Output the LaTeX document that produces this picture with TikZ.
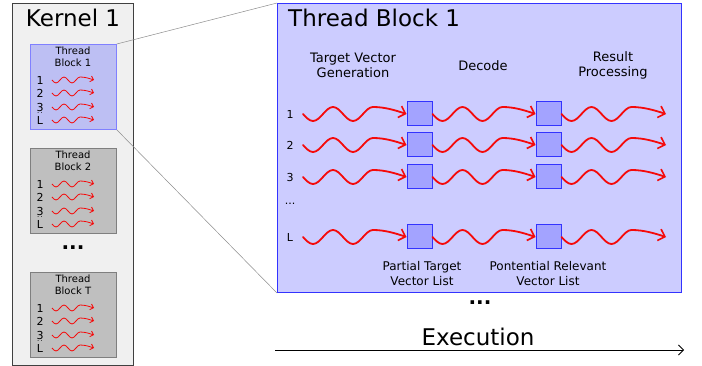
\documentclass[tikz,border=0pt]{standalone}
\usepackage{fontspec}
\setmainfont{DejaVu Sans}
\usetikzlibrary{arrows.meta}
\definecolor{kernelfill}{HTML}{F0F0F0}
\definecolor{tbfill}{HTML}{BDBFF3}
\definecolor{tbedge}{HTML}{8080FF}
\definecolor{grayfill}{HTML}{BFBFBF}
\definecolor{grayedge}{HTML}{7F7F7F}
\definecolor{bigfill}{HTML}{CCCCFF}
\definecolor{bigedge}{HTML}{3333FF}
\definecolor{listfill}{HTML}{A3A3FF}
\definecolor{wavered}{HTML}{F50A0A}
\begin{document}
\begin{tikzpicture}[x=1pt,y=-1pt,
  kernelbox/.style={draw=black!75,fill=kernelfill,line width=0.8pt},
  smallblock/.style={draw=#1edge,fill=#1fill,line width=0.8pt},
  bigblock/.style={draw=bigedge,fill=bigfill,line width=1pt},
  listbox/.style={draw=bigedge,fill=listfill,line width=1pt,minimum width=25pt,minimum height=24pt,inner sep=0pt},
  bigwave/.style={wavered,line width=1.8pt,line cap=round,
    -{Straight Barb[length=6pt,width=12pt,line width=1.6pt]}},
  smallwave/.style={wavered,line width=0.8pt,
    -{Straight Barb[length=3pt,width=6pt]}},
  zoomline/.style={draw=black!45,line width=0.5pt},
  lbl/.style={inner sep=0pt,font=\fontsize{13}{15}\selectfont,align=center},
  rowlbl/.style={inner sep=0pt,font=\fontsize{11}{13}\selectfont},
  tinylbl/.style={inner sep=0pt,font=\fontsize{10}{12}\selectfont,align=center}]
\useasboundingbox (0,0) rectangle (702,366);

% kernel column
\node[kernelbox,minimum width=121pt,minimum height=362pt,inner sep=0pt,anchor=north west] (kernel) at (12,3) {};
\node[inner sep=0pt,font=\fontsize{23}{26}\selectfont] (ktitle) at (73,18) {Kernel 1};

% one small thread block: #1 name, #2 style colour, #3 top y, #4 label
\newcommand{\smallblk}[4]{%
  \node[smallblock=#2,minimum width=86pt,minimum height=85pt,inner sep=0pt,anchor=north west] (#1) at (30,#3) {};
  \node[tinylbl,anchor=north] (#1t) at (73,#3+3) {Thread\\[-0.5pt]Block #4};
  \foreach \dy/\r in {36/1,49/2,63/3,76/L}{
    \node[rowlbl] (#1n\r) at (40,#3+\dy) {\r};
    \coordinate (#1s\r) at (52,#3+\dy);
    \coordinate (#1e\r) at (94,#3+\dy);
    \draw[smallwave] (#1s\r) sin ++(4,3) cos ++(4,-3) sin ++(4,-3) cos ++(4,3)
      sin ++(4,3) cos ++(4,-3) sin ++(4,-3) cos (#1e\r);
  }
  \node[inner sep=0pt,font=\fontsize{7}{7}\selectfont] (#1d) at (40,#3+69) {.\,.};
}
\smallblk{tba}{tb}{44}{1}
\smallblk{tbb}{gray}{148}{2}
\node[inner sep=0pt,font=\bfseries\fontsize{20}{20}\selectfont] (kdots) at (73,248) {...};
\smallblk{tbt}{gray}{272}{T}

% magnified thread block
\node[bigblock,minimum width=404pt,minimum height=289pt,inner sep=0pt,anchor=north west] (big) at (277,3) {};
\draw[zoomline] (tba.north east) -- (big.north west);
\draw[zoomline] (tba.south east) -- (big.south west);
\node[inner sep=0pt,anchor=west,font=\fontsize{23}{26}\selectfont] (btitle) at (288,18) {Thread Block 1};

\node[lbl] (h1) at (353,65) {Target Vector\\Generation};
\node[lbl] (h2) at (483,66) {Decode};
\node[lbl] (h3) at (613,65) {Result\\Processing};

\foreach \y/\r in {114/1,145/2,177/3,237/L}{
  \node[rowlbl] (n\r) at (290,\y) {\r};
  \coordinate (s\r) at (303,\y);
  \node[listbox] (p\r) at (419.5,\y) {};
  \node[listbox] (q\r) at (548.5,\y) {};
  \coordinate (e\r) at (666,\y);
  \draw[bigwave] (s\r) sin ++(10,7) cos ++(10,-7) sin ++(10,-7) cos ++(10,7)
    sin ++(10,7) cos ++(10,-7) sin ++(10,-7) cos (p\r.west);
  \draw[bigwave] (p\r.east) sin ++(10,7) cos ++(10,-7) sin ++(10,-7) cos ++(10,7)
    sin ++(10,7) cos ++(10,-7) sin ++(10,-7) cos (q\r.west);
  \draw[bigwave] (q\r.east) sin ++(10,7) cos ++(10,-7) sin ++(10,-7) cos ++(10,7)
    sin ++(10,7) cos ++(10,-7) sin ++(10,-7) cos (e\r);
}
\node[rowlbl] (ndots) at (290,204) {...};

\node[lbl,font=\fontsize{12}{15}\selectfont] (l1) at (422,273.5) {Partial Target\\Vector List};
\node[lbl,font=\fontsize{12}{15}\selectfont] (l2) at (548,273.5) {Pontential Relevant\\Vector List};

% execution axis
\node[inner sep=0pt,font=\bfseries\fontsize{20}{20}\selectfont] (edots) at (480,303) {...};
\node[inner sep=0pt,font=\fontsize{23}{26}\selectfont] (exec) at (478,337) {Execution};
\coordinate (ea) at (275,350);
\coordinate (eb) at (684,350);
\draw[line width=0.8pt,-{Straight Barb[length=5pt,width=10pt]}] (ea) -- (eb);
\end{tikzpicture}
\end{document}
